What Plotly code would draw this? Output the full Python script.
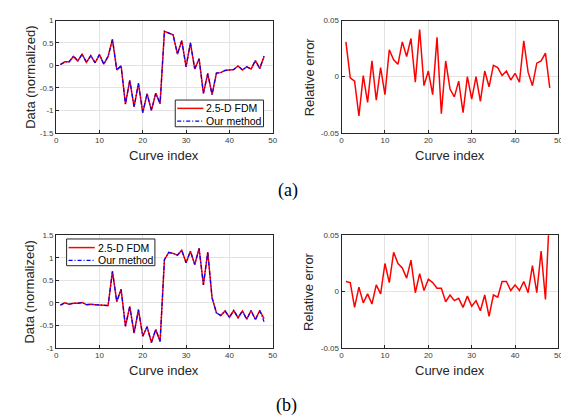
import plotly.graph_objects as go

idx = list(range(1, 49))

fdm_a = [0.02, 0.08, 0.08, 0.20, 0.10, 0.25, 0.07, 0.22, 0.06, 0.24,
         0.03, 0.20, 0.58, -0.10, -0.01, -0.86, -0.33, -0.92, -0.40, -1.05,
         -0.63, -1.00, -0.62, -0.85, 0.76, 0.72, 0.68, 0.25, 0.55, -0.03,
         0.50, -0.08, 0.15, -0.62, -0.18, -0.65, -0.17, -0.16, -0.11, -0.10,
         -0.09, -0.01, -0.10, -0.03, -0.08, 0.11, -0.07, 0.20]
ours_a = [0.02, 0.08, 0.08, 0.21, 0.10, 0.25, 0.07, 0.22, 0.06, 0.24,
          0.03, 0.20, 0.58, -0.10, -0.01, -0.86, -0.33, -0.92, -0.40, -1.05,
          -0.63, -1.00, -0.62, -0.85, 0.76, 0.72, 0.68, 0.26, 0.55, -0.03,
          0.50, -0.08, 0.15, -0.62, -0.18, -0.65, -0.17, -0.16, -0.11, -0.10,
          -0.09, -0.01, -0.10, -0.03, -0.08, 0.11, -0.07, 0.21]
err_a = [0.031, -0.001, -0.004, -0.035, 0.001, -0.023, 0.014, -0.021, 0.008, -0.016,
         0.024, 0.015, 0.011, 0.031, 0.018, 0.034, -0.005, 0.042, -0.008, 0.005,
         -0.016, 0.035, -0.033, 0.014, -0.011, -0.018, -0.004, -0.032, 0.000, -0.020,
         0.000, -0.022, 0.005, -0.009, 0.010, 0.008, 0.001, 0.005, -0.003, 0.003,
         -0.005, 0.032, 0.004, -0.008, 0.012, 0.014, 0.021, -0.010]

fdm_b = [-0.05, 0.00, -0.03, -0.01, -0.01, 0.01, -0.04, -0.03, -0.04, -0.05,
         -0.05, -0.06, 0.70, 0.03, 0.30, -0.52, -0.08, -0.67, -0.15, -0.74,
         -0.53, -0.88, -0.59, -0.86, 0.96, 1.12, 1.10, 1.06, 1.17, 0.89,
         1.15, 0.85, 1.21, 0.40, 1.13, 0.11, -0.22, -0.28, -0.18, -0.32,
         -0.17, -0.33, -0.18, -0.36, -0.17, -0.37, -0.17, -0.35]
ours_b = [-0.05, 0.00, -0.03, -0.01, -0.01, 0.01, -0.04, -0.03, -0.04, -0.05,
          -0.05, -0.06, 0.70, 0.03, 0.30, -0.52, -0.08, -0.67, -0.15, -0.74,
          -0.53, -0.88, -0.59, -0.86, 0.96, 1.12, 1.10, 1.06, 1.17, 0.89,
          1.15, 0.85, 1.21, 0.40, 1.13, 0.11, -0.22, -0.28, -0.18, -0.32,
          -0.17, -0.33, -0.18, -0.37, -0.17, -0.38, -0.17, -0.42]
err_b = [0.009, 0.008, -0.014, 0.004, -0.010, -0.002, -0.011, 0.006, -0.002, 0.025,
         0.008, 0.035, 0.025, 0.021, 0.012, 0.028, -0.001, 0.016, 0.001, 0.011,
         0.008, 0.003, 0.003, -0.009, -0.003, -0.008, -0.006, -0.014, -0.004, -0.013,
         -0.008, -0.017, -0.003, -0.022, -0.003, -0.005, 0.009, 0.009, 0.001, 0.006,
         0.001, 0.009, -0.001, 0.023, -0.001, 0.036, -0.007, 0.075]

series_names = ["2.5-D FDM", "Our method"]
x_ticks = [0, 10, 20, 30, 40, 50]
ya_ticks = [-1.5, -1, -0.5, 0, 0.5, 1]
yb_ticks = [-1, -0.5, 0, 0.5, 1, 1.5]
err_ticks = [-0.05, 0, 0.05]

RED = "#ff0000"
BLUE = "#0000ff"
DASHDOT = "4px,2px,1px,2px"
W, H = 569, 416
SANS = "Liberation Sans, Arial, sans-serif"

fig = go.Figure()

def add_pair(fdm, ours, xa, ya):
    fig.add_trace(go.Scatter(x=idx, y=fdm, mode="lines", name=series_names[0],
                             line=dict(color=RED, width=1.5), xaxis=xa, yaxis=ya,
                             showlegend=False))
    fig.add_trace(go.Scatter(x=idx, y=ours, mode="lines", name=series_names[1],
                             line=dict(color=BLUE, width=1.2, dash=DASHDOT),
                             xaxis=xa, yaxis=ya, showlegend=False))

add_pair(fdm_a, ours_a, "x", "y")
fig.add_trace(go.Scatter(x=idx, y=err_a, mode="lines", line=dict(color=RED, width=1.5),
                         xaxis="x2", yaxis="y2", showlegend=False))
add_pair(fdm_b, ours_b, "x3", "y3")
fig.add_trace(go.Scatter(x=idx, y=err_b, mode="lines", line=dict(color=RED, width=1.5),
                         xaxis="x4", yaxis="y4", showlegend=False))

def px2x(p):
    return p / W

def px2y(p):
    return 1 - p / H

L_dom = [px2x(46.7), px2x(266)]
R_dom = [px2x(335.7), px2x(555.3)]
T_dom = [px2y(123.5), px2y(8.7)]
B_dom = [px2y(343.3), px2y(228.3)]

tickfont = dict(family=SANS, size=8, color="#3a3a3a")
common = dict(showline=True, mirror=True, linecolor="#262626", linewidth=1,
              showgrid=True, gridcolor="#e3e3e3", gridwidth=1, zeroline=False,
              ticks="inside", ticklen=3, tickcolor="#262626", tickfont=tickfont)

def xaxis(dom, anchor):
    return dict(domain=dom, anchor=anchor, range=[0, 50], tickvals=x_ticks,
                ticktext=[str(v) for v in x_ticks], **common)

def yaxis(dom, anchor, rng, tv):
    return dict(domain=dom, anchor=anchor, range=rng, tickvals=tv,
                ticktext=[("%g" % v) for v in tv], **common)

fig.update_layout(
    width=W, height=H, margin=dict(l=0, r=0, t=0, b=0),
    paper_bgcolor="white", plot_bgcolor="white", showlegend=False,
    xaxis=xaxis(L_dom, "y"), yaxis=yaxis(T_dom, "x", [-1.5, 1], ya_ticks),
    xaxis2=xaxis(R_dom, "y2"), yaxis2=yaxis(T_dom, "x2", [-0.05, 0.05], err_ticks),
    xaxis3=xaxis(L_dom, "y3"), yaxis3=yaxis(B_dom, "x3", [-1, 1.5], yb_ticks),
    xaxis4=xaxis(R_dom, "y4"), yaxis4=yaxis(B_dom, "x4", [-0.05, 0.05], err_ticks),
)

shapes = []
ann = []

# manual legends (box, line samples, labels)
def legend(x0, y0, x1, y1, rows):
    shapes.append(dict(type="rect", xref="paper", yref="paper",
                       x0=px2x(x0), x1=px2x(x1), y0=px2y(y1), y1=px2y(y0),
                       fillcolor="white", line=dict(color="#262626", width=1), layer="above"))
    styles = [dict(color=RED, width=1.5), dict(color=BLUE, width=1.2, dash=DASHDOT)]
    for name, ry, st in zip(series_names, rows, styles):
        shapes.append(dict(type="line", xref="paper", yref="paper",
                           x0=px2x(x0 + 2), x1=px2x(x0 + 28.5), y0=px2y(ry), y1=px2y(ry),
                           line=st, layer="above"))
        ann.append(dict(x=px2x(x0 + 29.5), y=px2y(ry), xref="paper", yref="paper",
                        text=name, showarrow=False, xanchor="left", yanchor="middle",
                        font=dict(family=SANS, size=10.5, color="#000")))

legend(167.3, 90, 256.7, 117.3, [98.5, 111.5])
legend(57.3, 232, 146.7, 259.3, [240.8, 253.8])

labfont = dict(family=SANS, size=13, color="#262626")
for (x, y, t, ang) in [
    (156, 146.5, "Curve index", 0), (445, 146.5, "Curve index", 0),
    (156, 366.5, "Curve index", 0), (445, 366.5, "Curve index", 0),
    (20, 66.5, "Data (normalized)", -90), (303, 66.5, "Relative error", -90),
    (20, 286, "Data (normalized)", -90), (303, 286, "Relative error", -90),
]:
    ann.append(dict(x=px2x(x), y=px2y(y), xref="paper", yref="paper", text=t,
                    showarrow=False, textangle=ang, font=labfont,
                    xanchor="center", yanchor="middle"))
for (x, y, t) in [(281.5, 182, "(a)"), (280, 402.5, "(b)")]:
    ann.append(dict(x=px2x(x), y=px2y(y), xref="paper", yref="paper", text=t,
                    showarrow=False,
                    font=dict(family="Liberation Serif, Times New Roman, serif",
                              size=18, color="#000"),
                    xanchor="center", yanchor="middle"))
fig.update_layout(shapes=shapes, annotations=ann)

fig.write_html("out.html")
